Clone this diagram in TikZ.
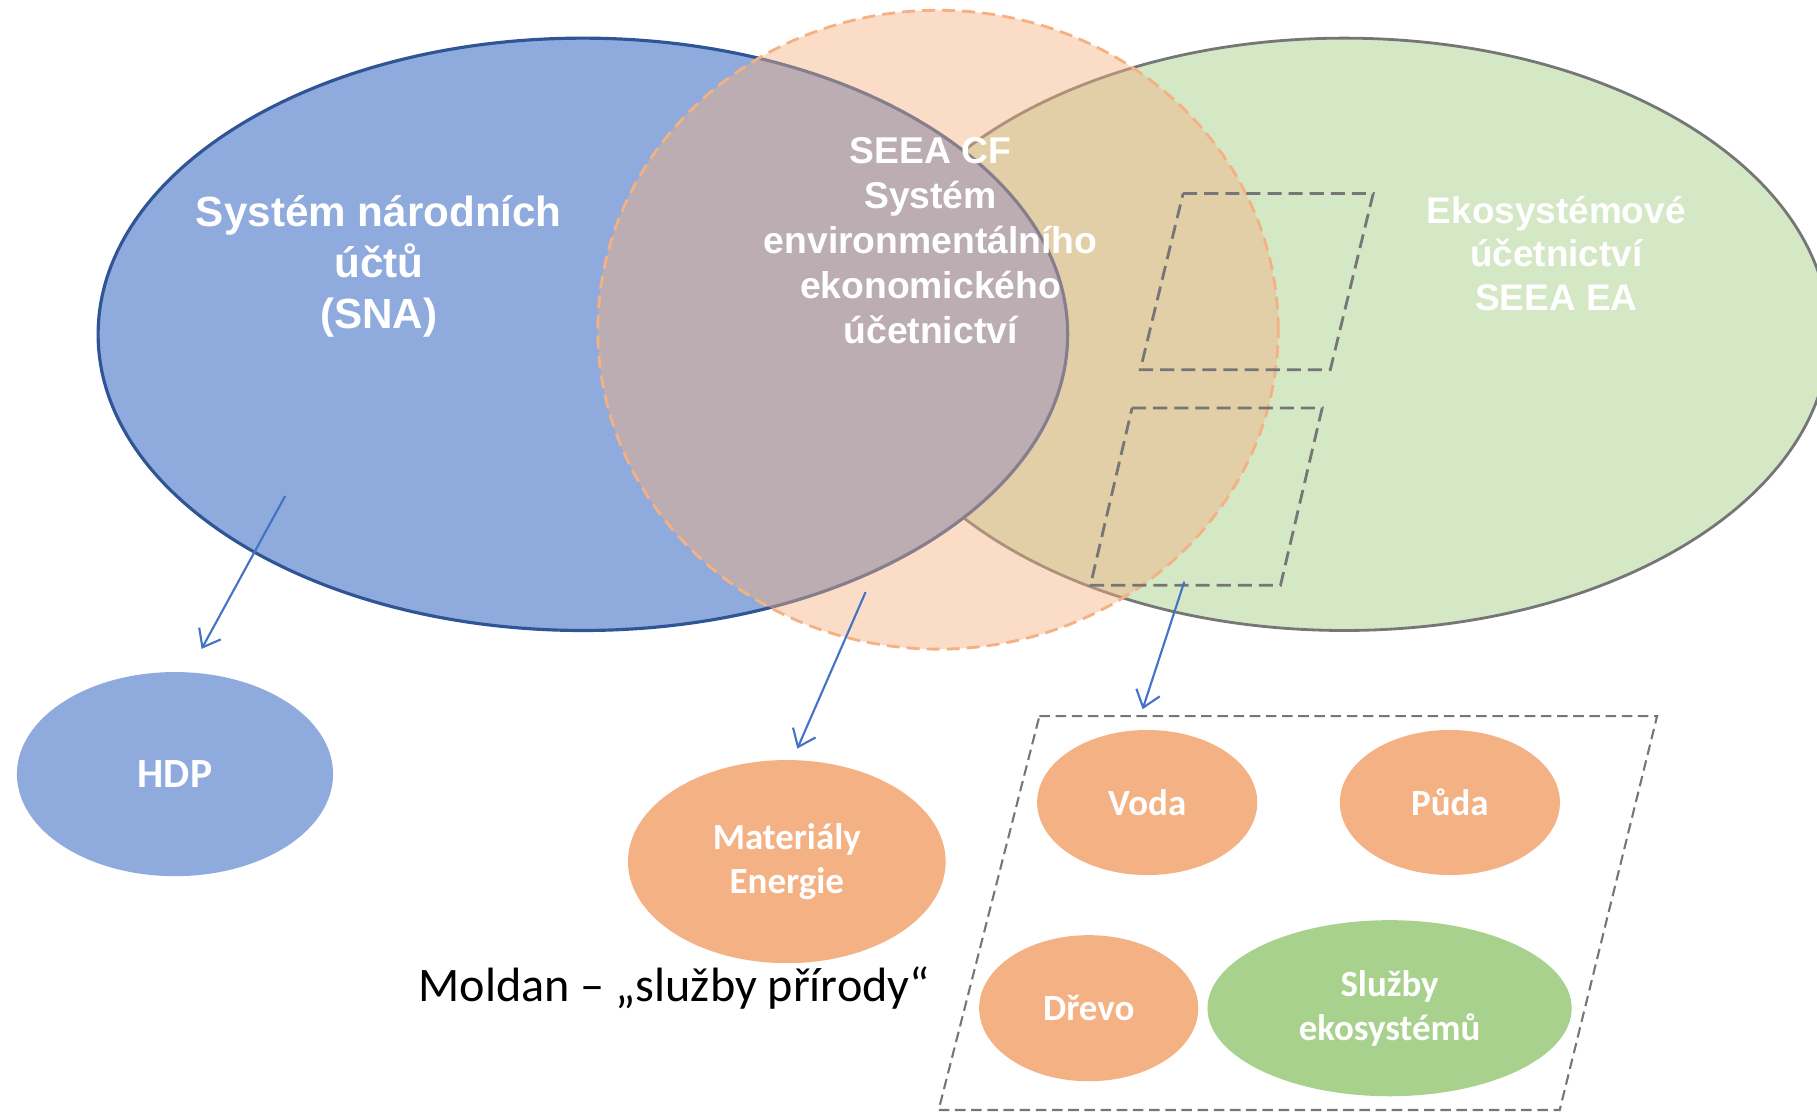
\documentclass[tikz,border=0pt]{standalone}
\usepackage{fontspec}
\usepackage{tikz}
\usetikzlibrary{arrows.meta, positioning, shapes.geometric}
\usepackage{xcolor}
\newfontfamily\arialfont{Liberation Sans}
\newfontfamily\calibrifont{Carlito}

\definecolor{snablue}{HTML}{8FAADC}
\definecolor{snaline}{HTML}{2F5597}
\definecolor{cforange}{HTML}{F4B183}
\definecolor{eagreen}{HTML}{A9D18E}
\definecolor{boxgray}{HTML}{767676}
\definecolor{arrowblue}{HTML}{4472C4}

\begin{document}
\begin{tikzpicture}[x=0.01cm, y=-0.01cm,
    bigtext/.style={text=white, align=center},
    bubble/.style={ellipse, inner sep=0pt, text=white, align=center, font=\calibrifont\bfseries\fontsize{10.5}{12.5}\selectfont},
    dashbox/.style={draw=boxgray, line width=0.8pt, dash pattern=on 4pt off 2pt},
    ptr/.style={draw=arrowblue, line width=0.6pt, -{Straight Barb[length=4.5pt,width=7pt]}}]
            \useasboundingbox (0,0) rectangle (1817,1111);
            \clip (0,0) rectangle (1817,1111);

            % the three big accounts
            \node[draw=boxgray, line width=0.8pt, fill=eagreen!50, ellipse, inner sep=0pt, minimum width=9.69cm, minimum height=5.92cm] (ea) at (1344.2,334.3) {};
            \node[draw=snaline, line width=0.9pt, fill=snablue, ellipse, inner sep=0pt, minimum width=9.69cm, minimum height=5.92cm] (sna) at (582.9,334.3) {};
            \node[draw=cforange, line width=0.8pt, dash pattern=on 3.7pt off 2pt, fill=cforange, fill opacity=0.45, ellipse, inner sep=0pt, minimum width=6.8cm, minimum height=6.385cm] (cf) at (938,329.7) {};

            \node[bigtext, font=\arialfont\bfseries\fontsize{12}{14.5}\selectfont] (snatext) at (378.9,266.5) {Systém národních\\účtů\\(SNA)};
            \node[bigtext, font=\arialfont\bfseries\fontsize{10.6}{12.8}\selectfont] (cftext) at (930.5,240.5) {SEEA CF\\Systém\\environmentálního\\ekonomického\\účetnictví};
            \node[bigtext, font=\arialfont\bfseries\fontsize{10.5}{12.5}\selectfont] (eatext) at (1556.3,253.6) {Ekosystémové\\účetnictví\\SEEA EA};

            % dashed frames
            \draw[dashbox] (1183.1,193.5) -- (1373.2,193.5) -- (1330.3,369.7) -- (1140.3,369.7) -- cycle;
            \draw[dashbox] (1132.1,407.9) -- (1322.2,407.9) -- (1280.5,585.2) -- (1090.4,585.2) -- cycle;
            \draw[dashbox, line width=0.6pt, dash pattern=on 3pt off 1.6pt] (1039.4,716.1) -- (1657.1,716.1) -- (1559.7,1110) -- (938.6,1110) -- cycle;

            % outputs
            \node[bubble, fill=snablue, minimum width=3.16cm, minimum height=2.04cm, font=\calibrifont\bfseries\fontsize{11.8}{14}\selectfont] (hdp) at (175,774.1) {HDP};
            \node[bubble, fill=cforange, minimum width=3.175cm, minimum height=2.03cm] (material) at (786.8,861.6) {Materiály\\Energie};
            \node[bubble, fill=cforange, minimum width=2.2cm, minimum height=1.45cm] (voda) at (1147.2,802.5) {Voda};
            \node[bubble, fill=cforange, minimum width=2.2cm, minimum height=1.45cm, right of=voda, node distance=3.025cm] (puda) {Půda};
            \node[bubble, fill=cforange, minimum width=2.19cm, minimum height=1.46cm] (drevo) at (1088.7,1008.2) {Dřevo};
            \node[bubble, fill=eagreen, minimum width=3.64cm, minimum height=1.76cm, right of=drevo, node distance=3.007cm] (sluzby) {Služby\\ekosystémů};

            \node[anchor=base, font=\calibrifont\fontsize{13.7}{16}\selectfont] (moldan) at (674.4,1001) {Moldan – „služby přírody“};

            \coordinate (snaout) at (285.1,496);
            \coordinate (hdpin) at (201.6,648.9);
            \coordinate (cfout) at (865.6,592.1);
            \coordinate (materialin) at (797.3,748.6);
            \coordinate (eaout) at (1184.3,581.7);
            \coordinate (boxin) at (1142.6,709.2);

            \path [ptr] (snaout) -- (hdpin);
            \path [ptr] (cfout) -- (materialin);
            \path [ptr] (eaout) -- (boxin);
        \end{tikzpicture}
\end{document}
